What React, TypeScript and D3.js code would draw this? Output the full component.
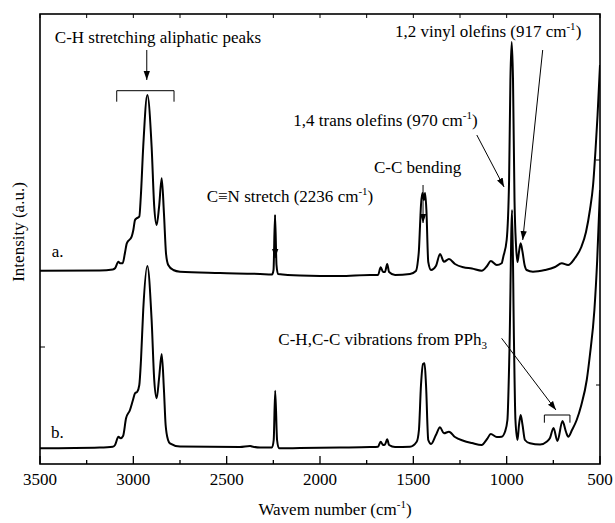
import React from "react";
import * as d3 from "d3";

// ---- data (wavenumber cm^-1, intensity a.u.) ----
const wnA = [3500,3180,3110,3098,3080,3071,3057,3045,3035,3009,3000,2991,2982,2968,2960,2947,2925,2902,2888,2875,2862,2848,2836,2825,2813,2786,2750,2536,2321,2257,2249,2241,2233,2225,2107,1893,1732,1689,1675,1662,1652,1640,1630,1598,1518,1486,1475,1470,1464,1459,1451,1443,1437,1430,1420,1405,1379,1357,1336,1309,1277,1232,1186,1134,1105,1085,1053,1027,1018,1000,987,980,973,966,958,950,942,934,925,915,904,893,859,795,741,705,671,634,600,575,554,537,524,513,500];
const intA = [193.3,193.5,194.5,195.7,202.3,200.7,200.7,211,220.7,227.3,234,244,245.7,247.3,267.3,317.3,369,317.3,257.3,239,257.3,285.7,250.7,210.7,199,194,192.3,191,190,189.5,194,249,199,190,188.5,188,189,189,196.7,192,192,200,192,189,190,193,204,214,239,259,271,264,271,254,202,194,198,210,202.3,205,200,196.7,195.5,193.3,198,203,199,200.7,207.3,224,284,384,422,384,264,219,202,212,220.7,212,199,194,192.3,194,197,200.7,199,206,217,232,254,279,314,349,399];

const wnB = [3500,3180,3110,3098,3080,3068,3055,3039,3018,3002,2991,2979,2968,2959,2947,2925,2902,2888,2875,2862,2848,2836,2827,2814,2804,2750,2429,2375,2364,2321,2257,2248,2240,2230,2220,2107,1893,1732,1689,1675,1662,1652,1640,1630,1598,1518,1482,1470,1459,1448,1440,1432,1420,1405,1379,1357,1336,1309,1277,1232,1186,1134,1105,1085,1053,1027,1009,996,985,971,961,953,942,934,925,915,902,875,821,786,768,749,728,701,682,670,650,625,600,571,554,530,515,500];
const intB = [15.7,16.5,17.3,19,27.3,25.7,28,45.7,54,64,70.7,72.3,79,104,154,198,144,84,65.7,86,110,74,39,24,20.7,17.5,17,18,17.5,16.5,16.5,24,73.3,24,15.7,16,16.5,17,17.3,22.3,19,19.5,24.7,19,17,17.3,22.3,34,79,100,100.7,79,24,20,29,36.7,30.7,32.3,27,23.3,21,19,25,30,27,27.3,32.3,44,114,254,124,44,24,39,49,39,24,20.7,19.5,22.3,26,36,23,43,32,27.3,34,44,59,84,109,154,204,274];

const majorTicks = [3500,3000,2500,2000,1500,1000,500];
const minorTicks = [3250,2750,2250,1750,1250,750];
const leftTicks = [117];
const rightTicks = [79, 304];

const W = 615, H = 523;
const M = { left: 40, right: 15, top: 14, bottom: 59 };
const FONT = "'Liberation Serif','Times New Roman',serif";

export default function App() {
  const x = d3.scaleLinear().domain([3500, 500]).range([M.left, W - M.right]);
  const y = d3.scaleLinear().domain([0, 450]).range([H - M.bottom, M.top]);
  const line = d3.line<[number, number]>()
    .x(d => x(d[0])).y(d => y(d[1]))
    .curve(d3.curveMonotoneX);
  const dA = line(wnA.map((w, i) => [w, intA[i]] as [number, number])) || "";
  const dB = line(wnB.map((w, i) => [w, intB[i]] as [number, number])) || "";
  const x0 = x(3500), x1 = x(500), yT = y(450), yB = y(0);

  const arrow = (wx1: number, iy1: number, wx2: number, iy2: number, key: string, w = 1) => (
    <line key={key} x1={x(wx1)} y1={y(iy1)} x2={x(wx2)} y2={y(iy2)} stroke="#000" strokeWidth={w} markerEnd="url(#ah)" />
  );
  const sup = (base: string, after: string) => (
    <>
      {base}<tspan fontSize={11} dy={-7}>-1</tspan><tspan dy={7}>{after}</tspan>
    </>
  );

  return (
    <svg width={W} height={H} style={{ position: "absolute", left: 0, top: 0, background: "#fff", fontFamily: FONT }}>
      <defs>
        <marker id="ah" viewBox="0 0 10 10" refX="10" refY="5" markerWidth="9" markerHeight="9" markerUnits="userSpaceOnUse" orient="auto">
          <path d="M0,1.5 L10,5 L0,8.5 z" fill="#000" />
        </marker>
        <clipPath id="clip"><rect x={x0} y={yT} width={x1 - x0} height={yB - yT} /></clipPath>
      </defs>
      <rect width={W} height={H} fill="#fff" />
      <g clipPath="url(#clip)">
        <path d={dA} fill="none" stroke="#000" strokeWidth={2} strokeLinejoin="round" />
        <path d={dB} fill="none" stroke="#000" strokeWidth={2} strokeLinejoin="round" />
      </g>
      {/* frame */}
      <rect x={x0} y={yT} width={x1 - x0} height={yB - yT} fill="none" stroke="#000" strokeWidth={1.6} />
      {majorTicks.map(t => (
        <g key={"M" + t}>
          <line x1={x(t)} x2={x(t)} y1={yB} y2={yB - 8} stroke="#000" strokeWidth={1.3} />
          <line x1={x(t)} x2={x(t)} y1={yT} y2={yT + 4} stroke="#000" strokeWidth={1} />
          <text x={x(t)} y={yB + 21} fontSize={17} textAnchor="middle">{t}</text>
        </g>
      ))}
      {minorTicks.map(t => (
        <g key={"m" + t}>
          <line x1={x(t)} x2={x(t)} y1={yB} y2={yB - 4} stroke="#000" strokeWidth={1.3} />
          <line x1={x(t)} x2={x(t)} y1={yT} y2={yT + 4} stroke="#000" strokeWidth={1} />
        </g>
      ))}
      {leftTicks.map(t => (
        <line key={"l" + t} x1={x0} x2={x0 + 5} y1={y(t)} y2={y(t)} stroke="#000" strokeWidth={1} />
      ))}
      {rightTicks.map(t => (
        <line key={"r" + t} x1={x1} x2={x1 - 4} y1={y(t)} y2={y(t)} stroke="#000" strokeWidth={1} />
      ))}
      <text x={335} y={515} fontSize={17} textAnchor="middle">{sup("Wavem number (cm", ")")}</text>
      <text transform={`translate(24,232) rotate(-90)`} fontSize={17} textAnchor="middle">Intensity (a.u.)</text>

      {/* annotations */}
      <text x={x(2868)} y={y(421)} fontSize={17} textAnchor="middle">C-H stretching aliphatic peaks</text>
      {arrow(2928, 414, 2928, 384, "a1")}
      <path d={`M${x(3089)},${y(362.3)} V${y(373.3)} H${x(2782)} V${y(362.3)}`} fill="none" stroke="#000" strokeWidth={1} />

      <text x={x(2607)} y={y(262.3)} fontSize={17}>C≡N stretch (2236 {sup("cm", ")")}</text>
      {arrow(2240, 249, 2240, 206, "a2")}

      <text x={x(1711)} y={y(290.7)} fontSize={17}>C-C bending</text>
      {arrow(1448, 279, 1448, 241, "a3")}

      <text x={x(2143)} y={y(338)} fontSize={17}>1,4 trans olefins (970 {sup("cm", ")")}</text>
      {arrow(1160, 329, 1014, 277, "a4")}

      <text x={x(1598)} y={y(426.7)} fontSize={17}>1,2 vinyl olefins (917 {sup("cm", ")")}</text>
      {arrow(807, 414, 914, 224, "a5")}

      <text x={x(2223)} y={y(119)} fontSize={17}>C-H,C-C vibrations from PPh<tspan fontSize={11} dy={4}>3</tspan></text>
      {arrow(1027, 125.7, 736, 54, "a6")}
      <path d={`M${x(798)},${y(41.3)} V${y(49)} H${x(661)} V${y(41.3)}`} fill="none" stroke="#000" strokeWidth={1} />

      <text x={x(3437)} y={y(206.7)} fontSize={17}>a.</text>
      <text x={x(3441)} y={y(25.7)} fontSize={17}>b.</text>
    </svg>
  );
}
